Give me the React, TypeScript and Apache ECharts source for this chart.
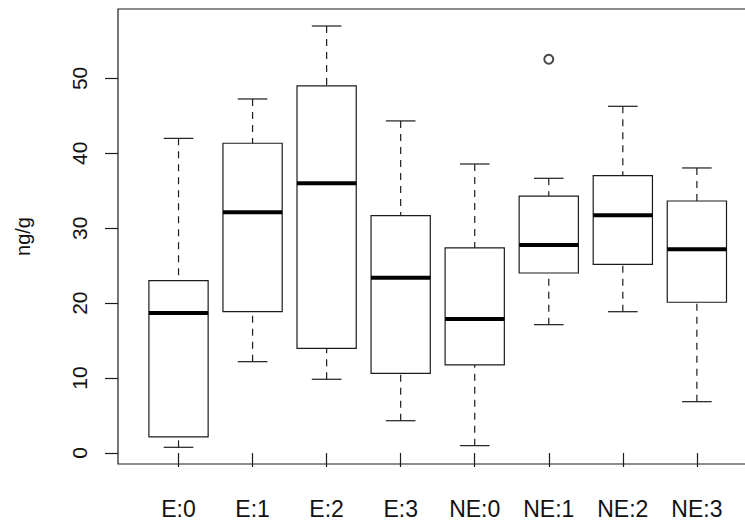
import React, { useEffect, useRef } from "react";
import * as echarts from "echarts";

const categories = ["E:0", "E:1", "E:2", "E:3", "NE:0", "NE:1", "NE:2", "NE:3"];
const whiskerLow = [0.76, 12.19, 9.84, 4.31, 0.98, 17.13, 18.86, 6.85];
const quartile1 = [2.14, 18.87, 13.97, 10.64, 11.75, 24.03, 25.19, 20.12];
const medians = [18.69, 32.13, 36.0, 23.4, 17.89, 27.77, 31.73, 27.19];
const quartile3 = [23.0, 41.35, 49.0, 31.68, 27.37, 34.3, 37.02, 33.64];
const whiskerHigh = [42.0, 47.26, 57.0, 44.33, 38.58, 36.67, 46.28, 38.05];
const outlierCategory = ["NE:1"];
const outlierValues = [52.56];
const yTicks = [0, 10, 20, 30, 40, 50];
const yName = "ng/g";

const FONT = "'Liberation Sans', Arial, sans-serif";
const INK = "#1c1c1c";

export default function App() {
  const ref = useRef<HTMLDivElement>(null);

  useEffect(() => {
    if (!ref.current) return;
    const chart = echarts.init(ref.current, null, { renderer: "svg" });

    const boxData = categories.map((_, i) => [
      i,
      whiskerLow[i],
      quartile1[i],
      medians[i],
      quartile3[i],
      whiskerHigh[i],
    ]);
    const outlierData = outlierCategory.map((c, k) => [categories.indexOf(c), outlierValues[k]]);

    const option: any = {
      animation: false,
      backgroundColor: "#fff",
      grid: {
        left: 141.5,
        top: 9,
        width: 592.4,
        height: 455,
        containLabel: false,
        outerBoundsMode: "none",
      },
      xAxis: {
        type: "category",
        data: categories,
        axisLine: { show: false },
        axisTick: {
          show: true,
          alignWithLabel: true,
          length: 14,
          lineStyle: { color: INK, width: 1.2 },
        },
        axisLabel: {
          fontSize: 23,
          fontFamily: FONT,
          color: "#111",
          margin: 33,
        },
        splitLine: { show: false },
      },
      yAxis: {
        type: "value",
        min: -1.47,
        max: 59.27,
        offset: 23.5,
        name: yName,
        nameLocation: "middle",
        nameRotate: 90,
        nameGap: 85,
        nameTextStyle: { fontSize: 20, fontFamily: FONT, color: "#111" },
        axisLine: { show: false },
        axisTick: {
          show: true,
          length: 13,
          customValues: yTicks,
          lineStyle: { color: INK, width: 1.2 },
        },
        axisLabel: {
          customValues: yTicks,
          rotate: 90,
          fontSize: 21,
          fontFamily: FONT,
          color: "#111",
          margin: 28,
        },
        splitLine: { show: false },
      },
      graphic: [
        {
          type: "rect",
          z: 100,
          silent: true,
          shape: { x: 118, y: 9, width: 640, height: 455 },
          style: { fill: "none", stroke: INK, lineWidth: 1.2 },
        },
      ],
      series: [
        {
          type: "custom",
          data: boxData,
          encode: { x: 0, y: [1, 2, 3, 4, 5] },
          renderItem: (params: any, api: any) => {
            const i = api.value(0);
            const lo = api.coord([i, api.value(1)]);
            const b1 = api.coord([i, api.value(2)]);
            const md = api.coord([i, api.value(3)]);
            const b3 = api.coord([i, api.value(4)]);
            const hi = api.coord([i, api.value(5)]);
            const band = api.size([1, 0])[0];
            const bw = band * 0.8;
            const cw = band * 0.4;
            const cx = lo[0];
            const thin = { stroke: INK, lineWidth: 1.2, fill: "none" };
            const dashed = { ...thin, lineDash: [7, 6] };
            return {
              type: "group",
              children: [
                { type: "line", shape: { x1: cx, y1: hi[1], x2: cx, y2: b3[1] }, style: dashed },
                { type: "line", shape: { x1: cx, y1: lo[1], x2: cx, y2: b1[1] }, style: dashed },
                { type: "line", shape: { x1: cx - cw / 2, y1: hi[1], x2: cx + cw / 2, y2: hi[1] }, style: thin },
                { type: "line", shape: { x1: cx - cw / 2, y1: lo[1], x2: cx + cw / 2, y2: lo[1] }, style: thin },
                {
                  type: "rect",
                  shape: { x: cx - bw / 2, y: b3[1], width: bw, height: b1[1] - b3[1] },
                  style: { fill: "#fff", stroke: INK, lineWidth: 1.2 },
                },
                {
                  type: "line",
                  shape: { x1: cx - bw / 2, y1: md[1], x2: cx + bw / 2, y2: md[1] },
                  style: { stroke: "#000", lineWidth: 4 },
                },
              ],
            };
          },
        },
        {
          type: "scatter",
          data: outlierData,
          symbol: "emptyCircle",
          symbolSize: 9,
          itemStyle: { color: INK, borderWidth: 1.2, borderColor: INK },
        },
      ],
    };

    chart.setOption(option);
    return () => chart.dispose();
  }, []);

  return (
    <div
      ref={ref}
      style={{ position: "absolute", left: 0, top: 0, width: 745, height: 523, background: "#fff" }}
    />
  );
}
